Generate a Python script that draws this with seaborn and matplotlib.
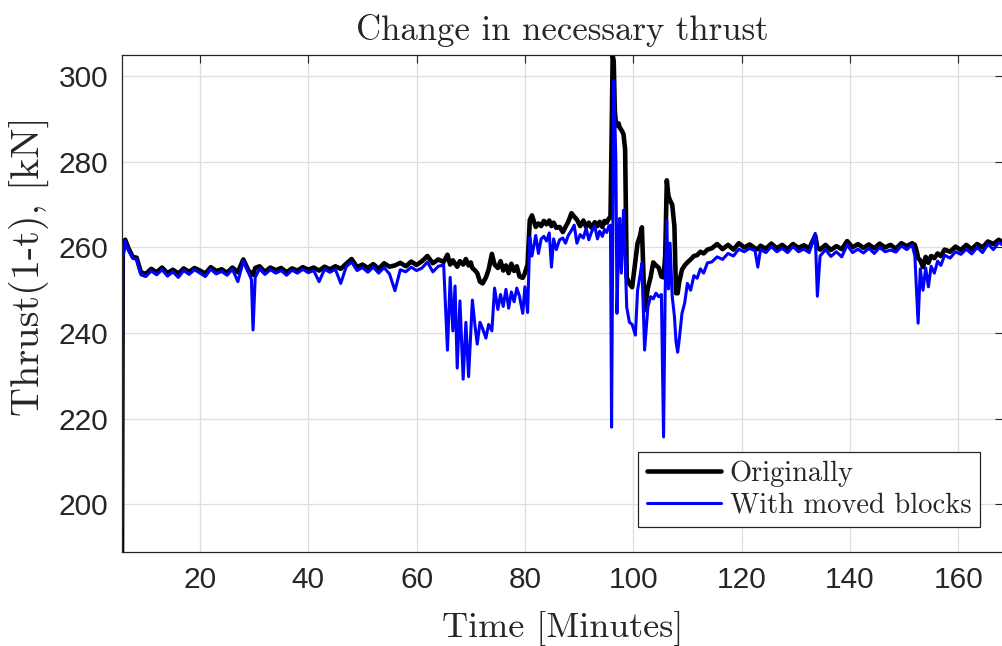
import numpy as np
import pandas as pd
import seaborn as sns
import matplotlib.pyplot as plt

# time axis [minutes]
t = [
    5.6, 5.75, 6.2, 6.8, 7.6, 8.3, 9.1,
    10, 11, 12, 13, 14, 15, 16, 17, 18, 19,
    20, 21, 22, 23, 24, 25, 26, 27, 28, 29,
    29.5, 29.8, 30.2,
    31, 32, 33, 34, 35, 36, 37, 38, 39, 40,
    41, 42, 43, 44, 45, 46, 47, 48, 49, 50,
    51, 52, 53, 54, 55, 56, 57, 58, 59, 60,
    61, 62, 63, 64, 65,
    65.7, 66.2, 66.7, 67.1, 67.5, 68.0, 68.6, 69.1, 69.6, 70.0,
    70.3, 70.8, 71.2, 71.7, 72.2, 72.8, 73.3, 73.9, 74.4, 75.0,
    75.5, 76.0, 76.5, 77.0, 77.5, 78.0, 78.5, 79.0, 79.6, 80.0,
    80.5, 80.9, 81.3,
    82.0, 82.5, 83.0, 83.5, 84.0, 84.5, 84.9, 85.3, 85.8, 86.4,
    87.0, 87.5, 88.0, 88.6, 89.1, 89.6, 90.2, 90.8, 91.3, 91.8,
    92.3, 92.9, 93.4, 93.8, 94.3, 94.7, 95.1, 95.5,
    95.8, 96.0, 96.2, 96.4, 96.6, 96.8, 97.0, 97.3, 97.5, 97.8,
    98.2, 98.5, 98.8, 99.3, 99.8, 100.4, 100.8, 101.2, 101.6, 102.1,
    102.7, 103.2, 103.7, 104.2, 104.7, 105.2, 105.6, 105.9, 106.2, 106.5,
    106.8, 107.2, 107.6, 107.9, 108.2, 108.5, 109.0, 109.5, 110.0, 110.6,
    111.2, 111.8, 112.4, 113.0, 113.7,
    114.5, 115.5, 116.5, 117.5, 118.5, 119.5, 120.5, 121.5, 122.5, 123.0,
    123.5, 124.5, 125.5, 126.5, 127.5, 128.5, 129.5, 130.5, 131.5, 132.5,
    133.6, 134.0, 134.5, 135.5, 136.5, 137.5, 138.5, 139.5, 140.5, 141.5,
    142.5, 143.5, 144.5, 145.5, 146.5, 147.5, 148.5, 149.5, 150.5, 151.5,
    152.0, 152.4, 152.6, 153.0, 153.5, 154.0, 154.5, 155.0, 155.6, 156.2,
    156.8, 157.5, 158.5, 159.5, 160.5, 161.5, 162.5, 163.5, 164.5, 165.5,
    166.5, 167.5, 168.2,
]

# thrust(1-t) [kN], original layout
orig = [
    185.0, 258.5, 261.8, 259.8, 257.8, 257.6, 254.2,
    253.8, 255.0, 254.2, 255.3, 254.0, 254.8, 253.9, 255.1, 254.3, 255.2,
    254.6, 253.9, 255.4, 254.5, 254.9, 254.1, 255.3, 254.2, 257.2, 254.5,
    254.0, 253.6, 255.2,
    255.6, 254.3, 255.3, 254.7, 255.2, 254.2, 255.1, 254.6, 255.4, 254.8,
    255.3, 254.6, 255.5, 254.9, 255.6, 255.0, 256.2, 257.3, 255.4, 256.0,
    255.2, 256.1, 255.0, 256.3, 255.5, 255.8, 256.4, 255.6, 256.7, 255.9,
    256.8, 258.0, 256.3, 257.2, 256.6,
    258.3, 256.0, 257.0, 256.2, 255.5, 256.8, 256.0, 257.3, 255.8, 256.5,
    255.2, 254.6, 254.0, 252.0, 251.6, 253.0, 254.8, 258.5, 256.0, 255.2,
    256.8, 254.6, 255.8, 254.0, 256.2, 254.5, 255.6, 253.2, 252.9, 254.0,
    256.0, 266.4, 267.5,
    264.8, 265.6, 265.0, 266.2, 265.4, 266.3, 265.0, 265.8, 264.6, 264.8,
    263.6, 264.8, 266.0, 268.0, 267.2, 266.5, 265.0, 266.3, 264.8, 265.8,
    264.6, 265.9, 265.0, 266.0, 264.8, 266.2, 265.8, 266.8,
    267.0, 285.0, 305.0, 303.5, 292.0, 289.0, 288.5, 289.0, 288.0, 287.5,
    286.5, 283.0, 253.0, 251.5, 250.7, 257.0, 261.0, 262.5, 264.7, 245.3,
    250.5, 253.0, 256.5, 255.8, 255.3, 253.2, 253.0, 258.0, 275.7, 272.0,
    271.0, 270.0, 265.0, 249.3, 249.3, 252.0, 254.8, 255.8, 256.5, 257.2,
    258.0, 258.2, 259.0, 258.6, 259.5,
    259.8, 260.8, 259.6, 260.6, 259.5, 261.0, 260.0, 260.7, 259.8, 259.6,
    260.4, 259.7, 260.9, 259.8, 260.6, 259.6, 260.8, 259.9, 260.5, 259.8,
    262.8, 260.0, 259.5, 260.6, 259.4, 260.3, 259.6, 261.5, 260.0, 260.8,
    259.9, 260.7, 259.8, 260.9, 260.0, 260.6, 259.7, 261.0, 260.3, 261.0,
    260.6, 258.8, 257.5, 257.0, 255.4, 257.8, 256.4, 258.0, 257.5, 258.6,
    258.0, 259.5, 259.0, 260.2, 259.4, 260.6, 259.6, 260.8, 260.0, 261.4,
    260.8, 261.8, 261.2,
]

# thrust(1-t) [kN], with moved blocks
moved = [
    194.5, 257.5, 261.5, 259.3, 257.4, 257.3, 253.6,
    253.2, 254.5, 253.6, 254.8, 253.3, 254.3, 253.0, 254.6, 253.7, 254.8,
    254.0, 253.2, 254.9, 253.8, 254.4, 253.5, 254.9, 252.0, 256.8, 254.0,
    252.5, 240.7, 253.0,
    255.0, 253.7, 254.8, 254.0, 254.6, 253.5, 254.7, 254.0, 254.9, 254.1,
    254.6, 252.0, 254.9, 254.2, 254.9, 251.6, 255.5, 256.6, 254.6, 255.3,
    254.2, 255.4, 254.0, 255.3, 253.8, 249.9, 254.8, 254.3, 255.4, 254.6,
    255.2, 256.6, 254.3, 255.6, 255.9,
    236.0, 253.0, 240.5, 251.0, 231.8, 247.5, 229.2, 242.5, 229.8, 240.0,
    247.7, 241.5, 237.4, 242.5, 241.0, 238.8, 242.0, 240.5, 250.5, 245.5,
    249.0, 246.2, 250.2, 245.8, 249.6, 247.3, 250.5, 248.6, 244.6, 250.8,
    244.8, 262.4, 258.0,
    262.8, 258.6, 262.0, 262.6, 261.5, 263.4, 255.4, 262.0, 259.5, 261.8,
    262.2, 261.0, 262.8, 264.0, 265.2, 261.0, 263.0, 262.2, 264.5, 261.8,
    263.6, 265.0, 262.0, 263.8, 262.6, 264.2, 263.5, 265.0,
    265.2, 218.0, 260.0, 299.0, 290.0, 280.0, 244.6, 262.0, 266.8, 254.0,
    268.7, 258.0, 246.0, 242.5, 242.0, 239.5, 250.0, 253.0, 256.3, 236.0,
    246.0, 248.5, 248.0, 249.3, 248.5, 249.0, 215.7, 250.0, 266.3, 250.3,
    261.0, 248.5, 244.0, 238.0, 235.5, 238.5, 244.6, 247.0, 251.6, 250.0,
    253.4, 252.8, 255.0, 254.0, 256.4,
    256.6, 257.8, 257.2, 258.6, 258.0, 259.6, 259.0, 259.8, 259.2, 255.4,
    259.5, 258.8, 260.2, 259.0, 259.8, 258.8, 260.2, 259.0, 259.6, 258.8,
    263.3, 248.6, 258.0, 259.5, 257.9, 259.0, 257.8, 260.6, 258.8, 259.6,
    258.7, 259.8, 258.6, 260.0, 259.0, 259.4, 258.9, 260.4, 259.5, 260.6,
    258.0, 247.2, 242.3, 255.0, 250.0, 255.2, 250.8, 255.6, 254.0, 256.8,
    255.8, 258.2, 257.5, 259.0, 258.4, 259.6, 258.5, 260.0, 258.8, 260.8,
    259.5, 261.2, 260.6,
]

xticks = [20, 40, 60, 80, 100, 120, 140, 160]
yticks = [200, 220, 240, 260, 280, 300]

df_orig = pd.DataFrame({"Time": t, "Thrust": orig})
df_moved = pd.DataFrame({"Time": t, "Thrust": moved})

sns.set_style("white")
plt.rcParams["font.family"] = ["Liberation Sans", "DejaVu Sans"]

fig = plt.figure(figsize=(10.03, 6.46), dpi=100)
ax = fig.add_axes([0.1216, 0.1455, 0.878, 0.7694])

sns.lineplot(data=df_orig, x="Time", y="Thrust", color="black", lw=3.3,
             estimator=None, sort=False, label="Originally", ax=ax)
sns.lineplot(data=df_moved, x="Time", y="Thrust", color="blue", lw=2.2,
             estimator=None, sort=False, label="With moved blocks", ax=ax)

ax.set_xlim(5.6, 168.2)
ax.set_ylim(188.8, 305)
ax.set_xticks(xticks)
ax.set_yticks(yticks)
ax.grid(True, color="#dedede", lw=0.9)
ax.tick_params(direction="in", length=6, width=0.8, colors="#262626",
               labelsize=21.5, top=True, right=True, pad=10)
for s in ax.spines.values():
    s.set_color("#262626")
    s.set_linewidth(0.9)

cm = "cmr10"
ax.set_title("Change in necessary thrust", fontfamily=cm, fontsize=25, pad=11)
ax.set_xlabel("Time [Minutes]", fontfamily=cm, fontsize=26, labelpad=12)
ax.set_ylabel("Thrust(1-t), [kN]", fontfamily=cm, fontsize=29)
ax.yaxis.set_label_coords(-0.083, 0.575)

leg = ax.legend(loc="lower right", bbox_to_anchor=(0.974, 0.05),
                prop={"family": cm, "size": 20.5}, frameon=True, fancybox=False,
                framealpha=1, edgecolor="#262626", borderpad=0.3,
                handlelength=2.6, handletextpad=0.3, labelspacing=0.2,
                borderaxespad=0)
leg.get_frame().set_linewidth(0.9)

fig.savefig("out.png", dpi=100)
